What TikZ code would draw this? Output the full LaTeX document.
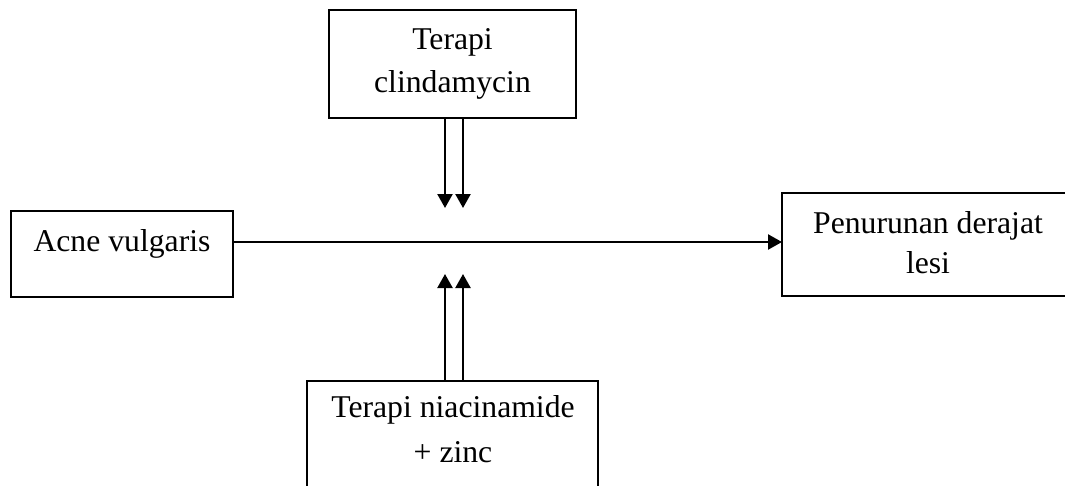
\documentclass[tikz,border=0pt]{standalone}
\usepackage{fontspec}
\setmainfont{Liberation Serif}
\usetikzlibrary{arrows.meta}
\tikzset{
  box/.style={draw=black, line width=2.3pt, inner sep=0pt, outer sep=0pt},
  lbl/.style={inner sep=0pt, outer sep=0pt, anchor=base, align=center},
  conn/.style={line width=2.3pt, -{Triangle[length=14pt,width=15pt]}},
}
\begin{document}
\begin{tikzpicture}[x=1pt,y=-1pt]
\clip (0,0) rectangle (1065,485);
\fill[white] (0,0) rectangle (1065,485);
% boxes
\node[box, minimum width=247pt, minimum height=108pt] (clin) at (452.5,64) {};
\node[box, minimum width=222pt, minimum height=86pt] (acne) at (122,254) {};
\node[box, minimum width=292pt, minimum height=103pt] (lesi) at (928,244.5) {};
\node[box, minimum width=291pt, minimum height=120pt] (niac) at (452.5,441) {};
% texts (base anchor = baseline of last line)
\node[lbl, font=\fontsize{31.7}{43}\selectfont] (clinT) at (452.5,92) {Terapi\\clindamycin};
\node[lbl, font=\fontsize{31.7}{38}\selectfont] (acneT) at (122,251) {Acne vulgaris};
\node[lbl, font=\fontsize{31.7}{40}\selectfont] (lesiT) at (928,273) {Penurunan derajat\\lesi};
\node[lbl, font=\fontsize{31.7}{45}\selectfont] (niacT) at (453,462) {Terapi niacinamide\\+ zinc};
% connector ends
\coordinate (d1) at (445,208);
\coordinate (d2) at (463,208);
\coordinate (u1) at (445,274);
\coordinate (u2) at (463,274);
\coordinate (h) at (0,242);
\draw[conn] (clin.south -| d1) -- (d1);
\draw[conn] (clin.south -| d2) -- (d2);
\draw[conn] (niac.north -| u1) -- (u1);
\draw[conn] (niac.north -| u2) -- (u2);
\draw[conn] (acne.east |- h) -- (lesi.west |- h);
\end{tikzpicture}
\end{document}
